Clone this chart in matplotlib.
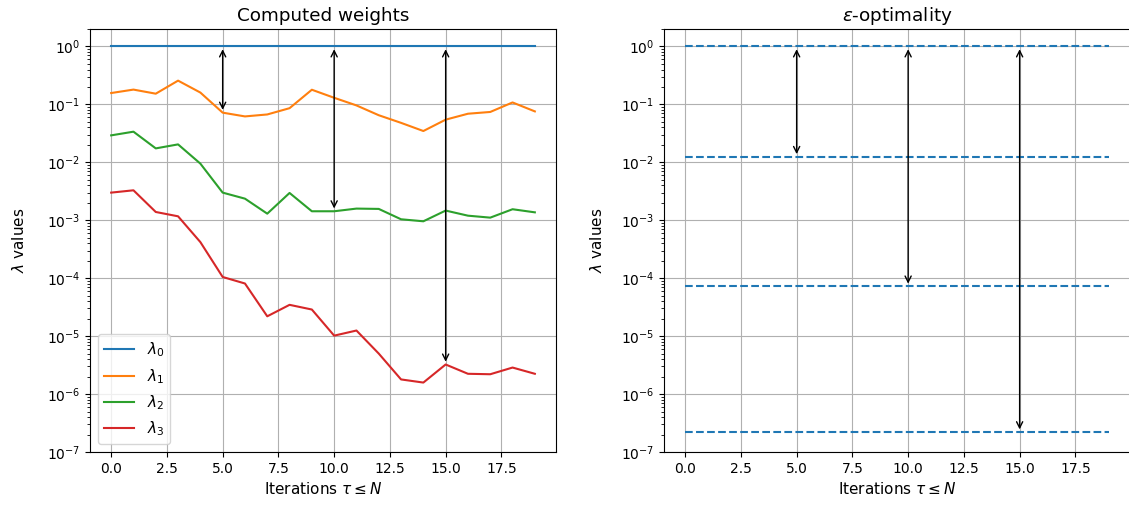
import numpy as np
import matplotlib
matplotlib.use('Agg')
import matplotlib.pyplot as plt

# iterations
tau = np.arange(20)

# computed weights per iteration
lam0 = [1.0] * 20
lam1 = [0.157, 0.18, 0.153, 0.257, 0.16, 0.072, 0.062, 0.067, 0.086, 0.179,
        0.13, 0.096, 0.065, 0.048, 0.0347, 0.0545, 0.069, 0.074, 0.108, 0.0757]
lam2 = [0.0292, 0.0338, 0.0174, 0.0204, 0.0095, 0.0030, 0.00236, 0.0013, 0.00296, 0.00143,
        0.00143, 0.00159, 0.00157, 0.00104, 0.00096, 0.00147, 0.0012, 0.00111, 0.00155, 0.00137]
lam3 = [0.0030, 0.00329, 0.00139, 0.00117, 0.00042, 1.05e-4, 8.1e-5, 2.2e-5, 3.47e-5, 2.88e-5,
        1.02e-5, 1.25e-5, 5.0e-6, 1.79e-6, 1.58e-6, 3.24e-6, 2.24e-6, 2.2e-6, 2.87e-6, 2.24e-6]

# epsilon levels on the right panel
eps_levels = [1.0, 0.0124, 7.2e-5, 2.2e-7]

# arrows: x position and lower end (left / right)
arrow_x = [5, 10, 15]
left_ends = [lam1[5], lam2[10], lam3[15]]
right_ends = eps_levels[1:]

plt.rcParams['font.size'] = 11
plt.rcParams['xtick.labelsize'] = 10
plt.rcParams['ytick.labelsize'] = 10

fig = plt.figure(figsize=(11.29, 5.08), dpi=100)
ax1 = fig.add_axes([0.0797, 0.1102, 0.4128, 0.8327])
ax2 = fig.add_axes([0.5881, 0.1102, 0.4128, 0.8327])

# 1) left panel: computed weights
for vals, lab in zip([lam0, lam1, lam2, lam3], range(4)):
    ax1.plot(tau, vals, label=r'$\lambda_%d$' % lab)
for x, y in zip(arrow_x, left_ends):
    ax1.annotate('', xy=(x, y), xytext=(x, 1.0),
                 arrowprops=dict(arrowstyle='<->', color='black'))
ax1.set_yscale('log')
ax1.set_ylim(1e-7, 2)
ax1.set_title('Computed weights')
ax1.set_xlabel(r'Iterations $\tau \leq N$')
ax1.set_ylabel(r'$\lambda$ values', labelpad=14)
ax1.grid(True)
ax1.legend(loc='lower left')

# 2) right panel: epsilon-optimality
for e in eps_levels:
    ax2.plot(tau, [e] * len(tau), '--', color='tab:blue')
for x, y in zip(arrow_x, right_ends):
    ax2.annotate('', xy=(x, y), xytext=(x, 1.0),
                 arrowprops=dict(arrowstyle='<->', color='black'))
ax2.set_yscale('log')
ax2.set_ylim(1e-7, 2)
ax2.set_title(r'$\epsilon$-optimality')
ax2.set_xlabel(r'Iterations $\tau \leq N$')
ax2.set_ylabel(r'$\lambda$ values', labelpad=11)
ax2.grid(True)

fig.savefig('out.png', dpi=100)
